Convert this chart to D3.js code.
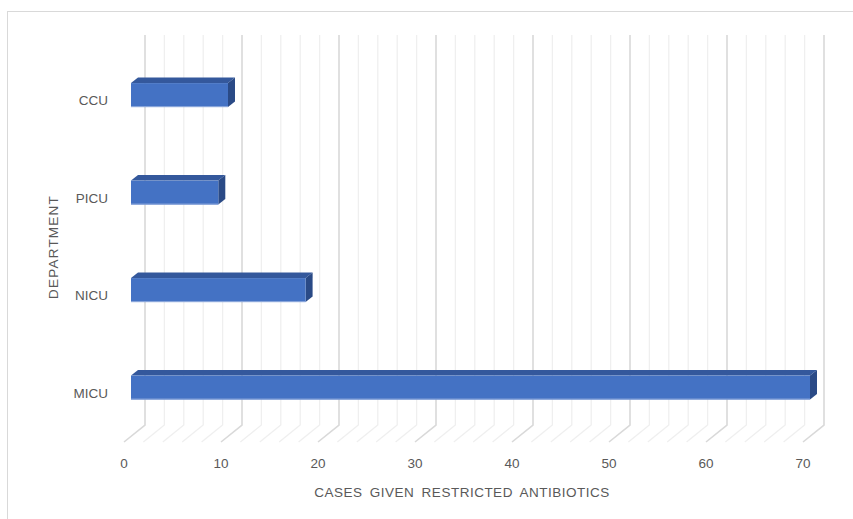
<!DOCTYPE html>
<html>
<head>
<meta charset="utf-8">
<script src="https://cdn.jsdelivr.net/npm/d3@7"></script>
<style>
  html, body { margin: 0; padding: 0; background: #fff; }
  svg text { font-family: "Liberation Sans", Arial, sans-serif; fill: #595959; }
</style>
</head>
<body>
<svg id="chart" width="853" height="519"></svg>
<script>
// Departments (top to bottom) and the number of cases given restricted antibiotics
const departments = ["CCU", "PICU", "NICU", "MICU"];
const cases = [10, 9, 18, 70];
const tickValues = [0, 10, 20, 30, 40, 50, 60, 70];
const xTitle = "CASES GIVEN RESTRICTED ANTIBIOTICS";
const yTitle = "DEPARTMENT";

const svg = d3.select("#chart");

// Back wall of the 3-D plot area
const wall = { left: 145, right: 824, top: 35, bottom: 425 };
// Offset from the back wall to the front edge of the floor
const depth = { dx: -21, dy: 17 };

const x = d3.scaleLinear().domain([0, 70]).range([wall.left, wall.right]);
const y = d3.scaleBand().domain(departments).range([wall.top, wall.bottom]);

// position of a point at depth fraction t (0 = back wall, 1 = front of floor)
const px = (v, t) => x(v) + depth.dx * t;
const py = (yy, t) => yy + depth.dy * t;

// chart frame
svg.append("rect")
  .attr("x", 7.5).attr("y", 11.5).attr("width", 900).attr("height", 520)
  .attr("fill", "none").attr("stroke", "#d9d9d9").attr("stroke-width", 1);

// gridlines: back wall verticals plus their floor diagonals
const gridVals = d3.range(0, 70.001, 2);
const grid = svg.append("g").attr("fill", "none");
gridVals.forEach(v => {
  const major = Math.abs(v % 10) < 1e-6;
  grid.append("path")
    .attr("d", d3.line()([
      [x(v), wall.top], [x(v), wall.bottom], [px(v, 1), py(wall.bottom, 1)]
    ]))
    .attr("stroke", major ? "#d9d9d9" : "#efefef")
    .attr("stroke-width", major ? 1.6 : 1.3);
});

// bars: front face at depth 2/3, back face at depth 1/3
const barH = 24;
const tFront = 2 / 3, tBack = 1 / 3;
const bars = svg.append("g");
departments.forEach((d, i) => {
  const v = cases[i];
  const yc = y(d) + y.bandwidth() / 2;
  const y0 = yc - barH / 2, y1 = yc + barH / 2;
  const fx0 = px(0, tFront), fx1 = px(v, tFront);
  const fy0 = py(y0, tFront), fy1 = py(y1, tFront);
  const bx0 = px(0, tBack), bx1 = px(v, tBack);
  const by0 = py(y0, tBack), by1 = py(y1, tBack);
  // top face
  bars.append("path")
    .attr("d", d3.line()([[fx0, fy0], [fx1, fy0], [bx1, by0], [bx0, by0]]) + "Z")
    .attr("fill", "#34589c");
  // end face
  bars.append("path")
    .attr("d", d3.line()([[fx1, fy0], [bx1, by0], [bx1, by1], [fx1, fy1]]) + "Z")
    .attr("fill", "#2a4a86");
  // front face
  bars.append("rect")
    .attr("x", fx0).attr("y", fy0)
    .attr("width", fx1 - fx0).attr("height", fy1 - fy0)
    .attr("fill", "#4472c4");
  // light lower edge of the front face
  bars.append("line")
    .attr("x1", fx0).attr("x2", fx1)
    .attr("y1", fy1 - 0.5).attr("y2", fy1 - 0.5)
    .attr("stroke", "#8faadc").attr("stroke-width", 1);
});

// category labels, placed on the front plane
svg.append("g").selectAll("text")
  .data(departments)
  .join("text")
  .attr("x", 108)
  .attr("y", d => py(y(d) + y.bandwidth() / 2, 1))
  .attr("dy", "0.35em")
  .attr("text-anchor", "end")
  .attr("font-size", 13.5)
  .text(d => d);

// value tick labels along the front of the floor
svg.append("g").selectAll("text")
  .data(tickValues)
  .join("text")
  .attr("x", v => px(v, 1))
  .attr("y", 463)
  .attr("dy", "0.35em")
  .attr("text-anchor", "middle")
  .attr("font-size", 13.5)
  .text(v => v);

// axis titles
svg.append("text")
  .attr("x", 462).attr("y", 492)
  .attr("dy", "0.35em")
  .attr("text-anchor", "middle")
  .attr("font-size", 13.5)
  .attr("letter-spacing", 0.5)
  .attr("word-spacing", 3)
  .text(xTitle);

svg.append("text")
  .attr("transform", "translate(53,247) rotate(-90)")
  .attr("dy", "0.35em")
  .attr("text-anchor", "middle")
  .attr("font-size", 13.5)
  .attr("letter-spacing", 1.2)
  .text(yTitle);
</script>
</body>
</html>
